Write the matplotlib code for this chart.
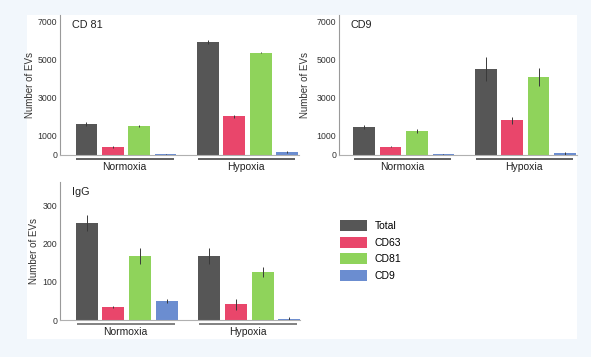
import matplotlib.pyplot as plt
from matplotlib.patches import Patch, Rectangle
import matplotlib.transforms as mtransforms

plt.rcParams['font.family'] = ['Liberation Sans', 'DejaVu Sans']

# data
markers = ['Total', 'CD63', 'CD81', 'CD9']
colors = ['#565656', '#e9466b', '#8fd35b', '#6b8dd0']
groups = ['Normoxia', 'Hypoxia']

cd81_norm = [1620, 420, 1520, 40]
cd81_norm_err = [90, 30, 30, 15]
cd81_hyp = [5940, 2030, 5380, 160]
cd81_hyp_err = [120, 70, 30, 40]

cd9_norm = [1460, 440, 1250, 30]
cd9_norm_err = [120, 20, 90, 10]
cd9_hyp = [4510, 1820, 4100, 90]
cd9_hyp_err = [620, 200, 460, 70]

igg_norm = [255, 34, 168, 50]
igg_norm_err = [22, 2, 21, 4]
igg_hyp = [168, 41, 126, 3]
igg_hyp_err = [21, 14, 13, 5]

W, H = 591, 357
fig = plt.figure(figsize=(W / 100, H / 100), dpi=100)
fig.patch.set_facecolor('#f2f7fc')
fig.patches.append(Rectangle((27 / W, 1 - 339 / H), (577 - 27) / W, (339 - 15) / H,
                             transform=fig.transFigure, facecolor='white',
                             edgecolor='none', zorder=-5))


def px_axes(left, top, right, bottom):
    return fig.add_axes([left / W, 1 - bottom / H, (right - left) / W, (bottom - top) / H])


def draw_panel(ax, title, norm, norm_err, hyp, hyp_err, ylim, yticks, xlim, label_x,
               bracket_color='#555555'):
    starts = [0.0, 4.6]
    for start, vals, errs in zip(starts, [norm, hyp], [norm_err, hyp_err]):
        xs = [start + i for i in range(len(vals))]
        ax.bar(xs, vals, width=0.82, color=colors, zorder=2)
        ax.errorbar(xs, vals, yerr=errs, fmt='none', ecolor='#3a3a3a',
                    elinewidth=0.7, capsize=0, zorder=3)
    trans = mtransforms.blended_transform_factory(ax.transData, ax.transAxes)
    for start, name in zip(starts, groups):
        ax.plot([start - 0.38, start + 3.3], [-0.03, -0.03], color=bracket_color, lw=1.3,
                transform=trans, clip_on=False, solid_capstyle='butt')
        ax.text(start + 1.45, -0.085, name, transform=trans, ha='center', va='center',
                fontsize=7.5, color='#222222')
    ax.set_xlim(*xlim)
    ax.set_ylim(*ylim)
    ax.set_yticks(yticks)
    ax.set_xticks([])
    ax.tick_params(axis='y', length=0, pad=2, labelsize=6.3, labelcolor='#333333')
    for s in ['top', 'right']:
        ax.spines[s].set_visible(False)
    ax.spines['left'].set_color('#9a9a9a')
    ax.spines['left'].set_linewidth(0.8)
    ax.spines['bottom'].set_color('#b0b0b0')
    ax.spines['bottom'].set_linewidth(0.8)
    ax.set_facecolor('none')
    ax.text(0.05, 0.93, title, transform=ax.transAxes, fontsize=7.8, va='center',
            color='#222222')
    ax.set_ylabel('Number of EVs', fontsize=7, color='#333333')
    ax.yaxis.set_label_coords(label_x, 0.5)


ax1 = px_axes(60, 15, 299, 155)
draw_panel(ax1, 'CD 81', cd81_norm, cd81_norm_err, cd81_hyp, cd81_hyp_err,
           (0, 7350), [0, 1000, 3000, 5000, 7000], (-1.0, 8.05), -0.103)

ax2 = px_axes(339, 15, 577, 155)
draw_panel(ax2, 'CD9', cd9_norm, cd9_norm_err, cd9_hyp, cd9_hyp_err,
           (0, 7350), [0, 1000, 3000, 5000, 7000], (-0.95, 8.05), -0.12)

ax3 = px_axes(60, 182, 300, 320)
draw_panel(ax3, 'IgG', igg_norm, igg_norm_err, igg_hyp, igg_hyp_err,
           (0, 363), [0, 100, 200, 300], (-1.0, 8.0), -0.088, bracket_color='#777777')

handles = [Patch(facecolor=c, edgecolor='none', label=m) for c, m in zip(colors, markers)]
fig.legend(handles=handles, loc='upper left', bbox_to_anchor=(340 / W, 1 - 220 / H),
           frameon=False, fontsize=7.5, handlelength=2.6, handleheight=1.3,
           labelspacing=0.5, handletextpad=0.7, borderpad=0, borderaxespad=0)

fig.savefig('out.png', dpi=100, facecolor=fig.get_facecolor())
